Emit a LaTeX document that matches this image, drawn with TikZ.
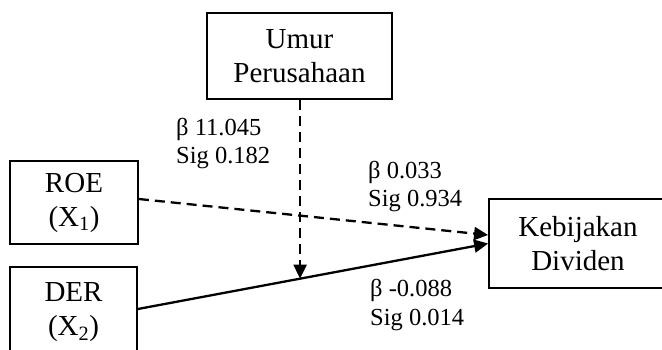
\documentclass[tikz,border=0pt]{standalone}
\usepackage{fontspec}
\setmainfont{Liberation Serif}
\usetikzlibrary{arrows.meta,calc}
\begin{document}
\begin{tikzpicture}[x=1pt,y=1pt,
  box/.style={draw,line width=1.8pt,inner sep=0pt,align=center,
    font=\fontsize{29}{34}\selectfont},
  lbl/.style={anchor=west,align=left,inner sep=0pt,
    font=\fontsize{24.5}{28.5}\selectfont},
  arr/.style={line width=2.3pt,-{Triangle[length=14pt,width=13pt]}},
  dsh/.style={dash pattern=on 10pt off 6pt}]
\useasboundingbox (0,0) rectangle (662,-349);
\clip (0,0) rectangle (662,-349);
\node[box,minimum width=185,minimum height=86] (umur) at (299.5,-56) {Umur\\Perusahaan};
\node[box,minimum width=128,minimum height=83] (roe) at (74,-202.5) {ROE\\(X\textsubscript{1})};
\node[box,minimum width=127,minimum height=91] (der) at (73.5,-312.5) {DER\\(X\textsubscript{2})};
\node[box,minimum width=178,minimum height=89] (keb) at (578,-243.5) {Kebijakan\\Dividen};
\coordinate (roeA) at ($(roe.east)+(0,3.5)$);
\coordinate (kebA) at ($(keb.west)+(0,8.5)$);
\coordinate (derA) at ($(der.east)+(0,3.5)$);
\coordinate (kebB) at (keb.west);
\coordinate (mod) at ($(derA)!0.4631!(kebB)$);
\draw[arr,dsh] (roeA) -- (kebA);
\draw[arr] (derA) -- (kebB);
\draw[arr,dsh] (umur.south -| mod) -- (mod);
\node[lbl] (l1) at (176,-143.5) {β 11.045\\Sig 0.182};
\node[lbl] (l2) at (368,-186.5) {β 0.033\\Sig 0.934};
\node[lbl] (l3) at (370,-305) {β -0.088\\Sig 0.014};
\end{tikzpicture}
\end{document}
